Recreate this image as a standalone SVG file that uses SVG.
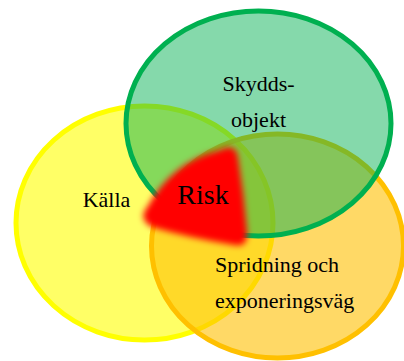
<svg xmlns="http://www.w3.org/2000/svg" width="404" height="361" viewBox="0 0 404 361">
<defs>
<filter id="blur" x="-20%" y="-20%" width="140%" height="140%">
<feGaussianBlur stdDeviation="3.2"/>
</filter>
<style>
.lbl{font-family:"Liberation Serif","Times New Roman",serif;font-size:22px;fill:#000}
.risk{font-family:"Liberation Serif","Times New Roman",serif;font-size:28px;fill:#000}
</style>
</defs>
<rect width="404" height="361" fill="#fff"/>
<g id="kalla">
<ellipse cx="144.5" cy="223" rx="128.5" ry="117" fill="#FFFF00" fill-opacity="0.6" stroke="#FFFF00" stroke-width="5"/>
</g>
<g id="spridning">
<ellipse cx="277.5" cy="246" rx="126" ry="112" fill="#FFC000" fill-opacity="0.6" stroke="#FFC000" stroke-width="5"/>
</g>
<g id="skyddsobjekt">
<ellipse cx="258.5" cy="123.5" rx="132.5" ry="112.5" fill="#00B050" fill-opacity="0.48" stroke="#00B050" stroke-width="5"/>
</g>
<g id="risk">
<path d="M220,150 Q236,142 238,158 Q244,195 247,232 Q248,248 234,245 Q190,238 152,227 Q137,219 148,206 Q172,162 220,150 Z" fill="#FF0000" filter="url(#blur)"/>
<text class="risk" x="203" y="204" text-anchor="middle">Risk</text>
</g>
<g id="labels">
<text class="lbl" x="106.5" y="207" text-anchor="middle">Källa</text>
<text class="lbl" x="258.5" y="91" text-anchor="middle">Skydds-</text>
<text class="lbl" x="258.5" y="127" text-anchor="middle">objekt</text>
<text class="lbl" x="215" y="272">Spridning och</text>
<text class="lbl" x="215" y="308">exponeringsväg</text>
</g>
<g id="connectors"/>
</svg>
